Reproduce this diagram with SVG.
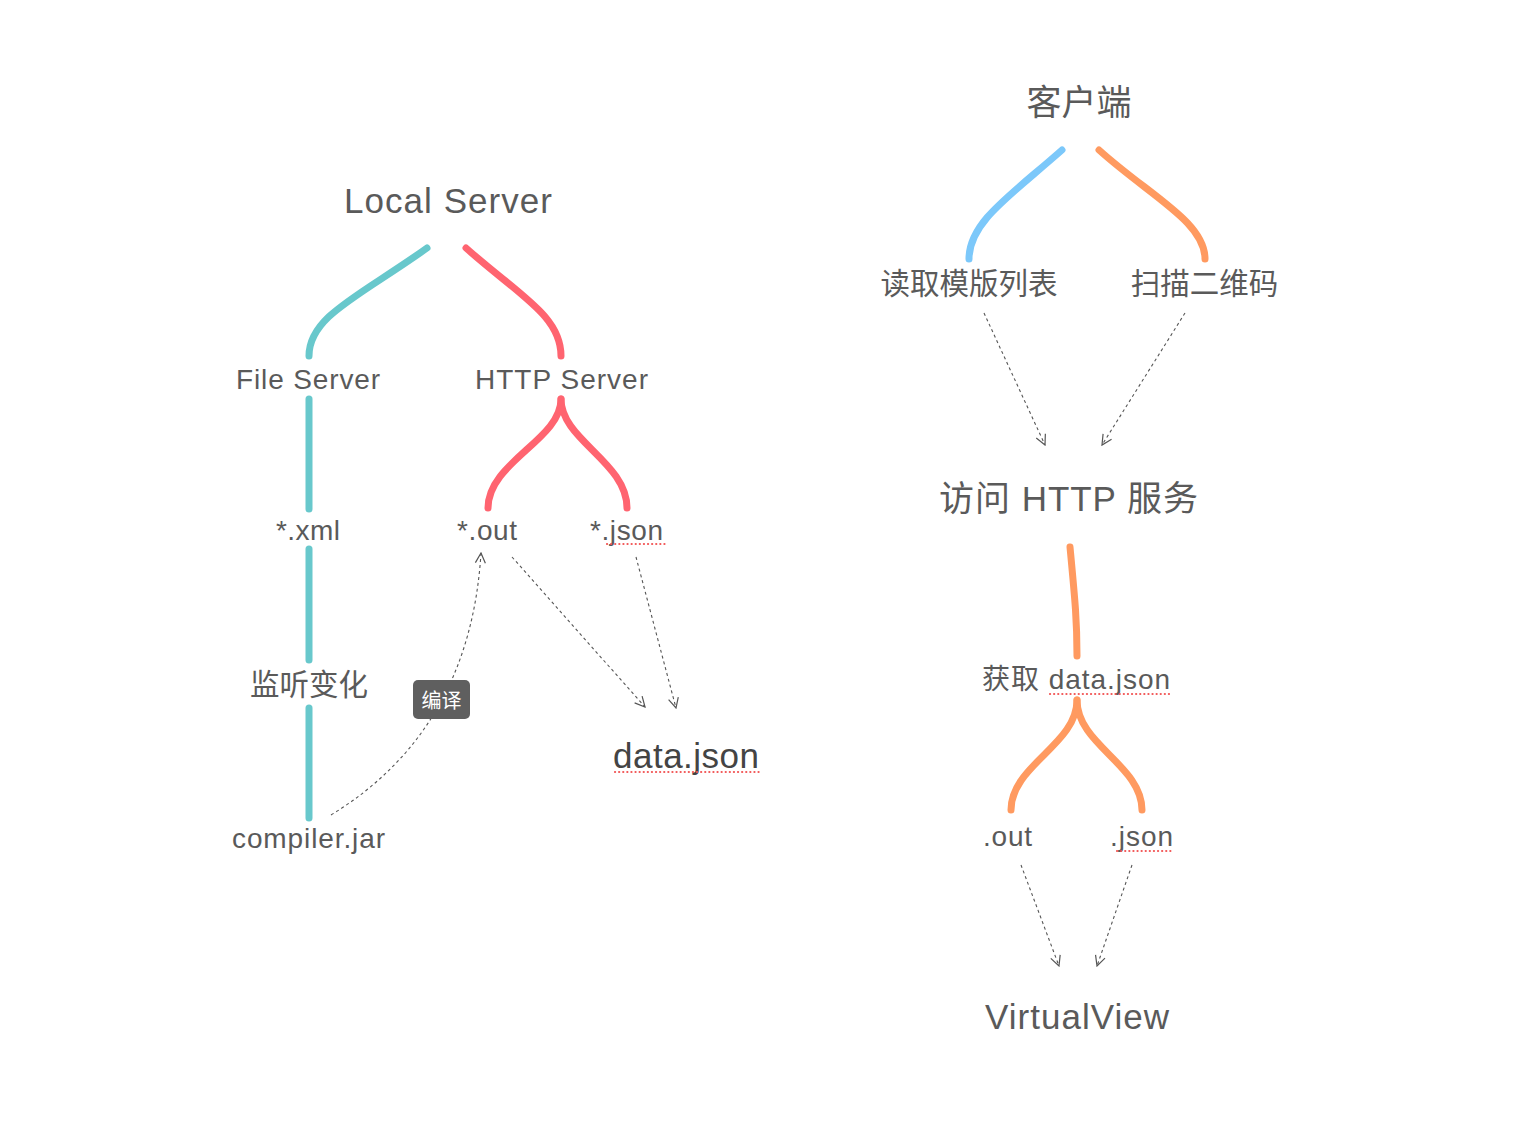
<svg xmlns="http://www.w3.org/2000/svg" width="1526" height="1128" viewBox="0 0 1526 1128">
<style>
  .t{font-family:"Liberation Sans","Noto Sans CJK SC",sans-serif;fill:#5a5a5a;text-anchor:middle}
  .big{font-size:35px}
  .mid{font-size:28px}
  .cjk{font-size:29.5px}
  .teal{stroke:#68C8CC}
  .red{stroke:#FF6470}
  .blue{stroke:#7CC8FA}
  .org{stroke:#FF9A60}
  .br{fill:none;stroke-width:7;stroke-linecap:round}
  .dash{fill:none;stroke:#555;stroke-width:1.1;stroke-dasharray:3 3}
  .spell{fill:none;stroke:#f25555;stroke-width:2.2;stroke-linecap:round;stroke-dasharray:0.1 4}
</style>
<defs>
  <marker id="ah" viewBox="0 0 12 12" refX="11" refY="6" markerWidth="12" markerHeight="12" markerUnits="userSpaceOnUse" orient="auto">
    <path d="M1,1 L11,6 L1,11" fill="none" stroke="#555" stroke-width="1.2"/>
  </marker>
</defs>
<rect width="1526" height="1128" fill="#fff"/>

<g id="connectors">
  <path class="br teal" d="M427,248 C360,296 309,316 309,356"/>
  <path class="br red" d="M466,248 C520,296 561,316 561,356"/>
  <path class="br teal" d="M309,399 L309,509"/>
  <path class="br red" d="M561,399 C561,440 488,462 488,508"/>
  <path class="br red" d="M561,399 C561,440 627,462 627,508"/>
  <path class="br teal" d="M309,549 L309,660"/>
  <path class="br teal" d="M309,708 L309,818"/>
  <path class="dash" d="M331,815 Q470,730 481,553" marker-end="url(#ah)"/>
  <path class="dash" d="M512,557 L645,707" marker-end="url(#ah)"/>
  <path class="dash" d="M636,557 L676,708" marker-end="url(#ah)"/>

  <path class="br blue" d="M1062,150 C1010,196 969,222 969,259"/>
  <path class="br org" d="M1099,150 C1150,196 1205,222 1205,259"/>
  <path class="dash" d="M984,313 L1045,445" marker-end="url(#ah)"/>
  <path class="dash" d="M1185,313 L1102,445" marker-end="url(#ah)"/>
  <path class="br org" d="M1070,547 C1075,600 1077,620 1077,656"/>
  <path class="br org" d="M1077,700 C1077,745 1011,765 1011,810"/>
  <path class="br org" d="M1077,700 C1077,745 1142,765 1142,810"/>
  <path class="dash" d="M1021,865 L1059,966" marker-end="url(#ah)"/>
  <path class="dash" d="M1132,865 L1097,966" marker-end="url(#ah)"/>
</g>

<g id="local-server"><text class="t big" x="448" y="213" textLength="208" lengthAdjust="spacing">Local Server</text></g>
<g id="file-server"><text class="t mid" x="308" y="389" textLength="144" lengthAdjust="spacing">File Server</text></g>
<g id="http-server"><text class="t mid" x="561.5" y="389" textLength="173" lengthAdjust="spacing">HTTP Server</text></g>
<g id="xml"><text class="t mid" x="308" y="540" textLength="64" lengthAdjust="spacing">*.xml</text></g>
<g id="out"><text class="t mid" x="487" y="540" textLength="60" lengthAdjust="spacing">*.out</text></g>
<g id="json"><text class="t mid" x="626.5" y="540" textLength="73" lengthAdjust="spacing">*.json</text>
  <path class="spell" d="M607,544 L666,544"/></g>
<g id="listen"><text class="t cjk" x="309" y="695">监听变化</text></g>
<g id="compiler"><text class="t mid" x="308.5" y="848" textLength="153" lengthAdjust="spacing">compiler.jar</text></g>
<g id="compile-label">
  <rect x="413" y="680" width="57" height="39" rx="5" fill="#5f5f5f"/>
  <text class="t" style="font-size:20px;fill:#fff" x="441.5" y="708">编译</text>
</g>
<g id="data-json"><text class="t big" style="fill:#444" x="686" y="768" textLength="146" lengthAdjust="spacing">data.json</text>
  <path class="spell" d="M615,772 L762,772"/></g>

<g id="client"><text class="t" style="font-size:35px" x="1079" y="115">客户端</text></g>
<g id="read-list"><text class="t cjk" x="969" y="294">读取模版列表</text></g>
<g id="scan-qr"><text class="t cjk" x="1204.5" y="294">扫描二维码</text></g>
<g id="visit-http"><text class="t big" x="1068.5" y="511" textLength="259" lengthAdjust="spacing">访问 HTTP 服务</text></g>
<g id="fetch-data"><text class="t mid" x="1076" y="689" textLength="188" lengthAdjust="spacing">获取 data.json</text>
  <path class="spell" d="M1050,694 L1172,694"/></g>
<g id="r-out"><text class="t mid" x="1007.5" y="846" textLength="49" lengthAdjust="spacing">.out</text></g>
<g id="r-json"><text class="t mid" x="1141.5" y="846" textLength="63" lengthAdjust="spacing">.json</text>
  <path class="spell" d="M1117,851 L1174,851"/></g>
<g id="virtualview"><text class="t big" x="1077" y="1029" textLength="184" lengthAdjust="spacing">VirtualView</text></g>
</svg>
